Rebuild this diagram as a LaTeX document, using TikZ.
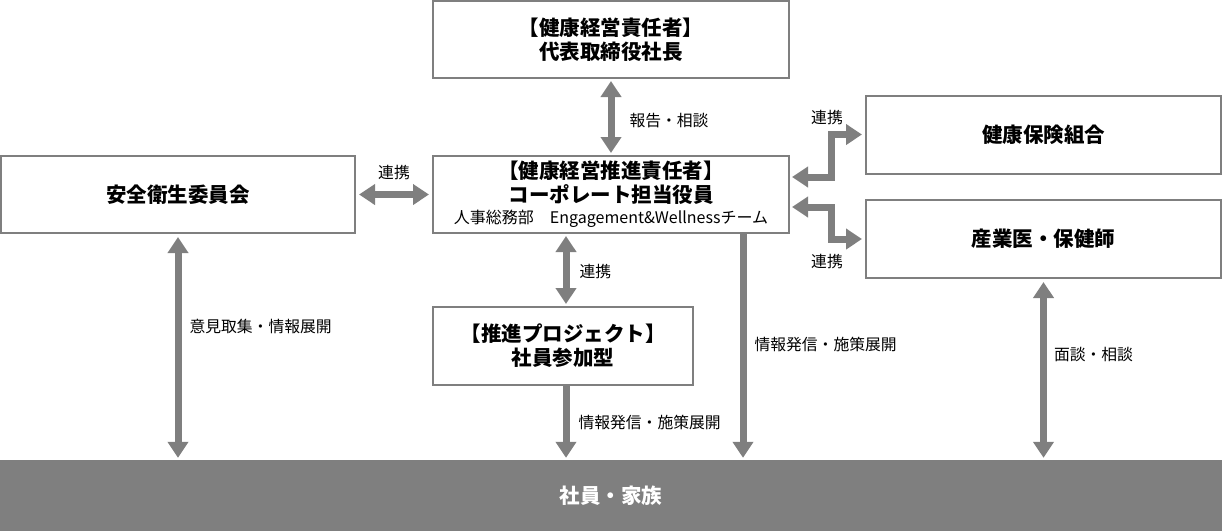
\documentclass[tikz,border=0pt]{standalone}
\usepackage{fontspec}
\setmainfont{Noto Sans CJK JP}
\usetikzlibrary{arrows.meta}

\definecolor{linegray}{HTML}{7F7F7F}
\newcommand{\ttlfont}{\fontsize{20.5}{24}\selectfont\bfseries}
\newcommand{\lblfont}{\fontsize{15.8}{18}\selectfont}
\newcommand{\subfont}{\fontsize{16}{18}\selectfont\mdseries}

\tikzset{big/.tip={Triangle[width=20pt,length=16pt]}}

\begin{document}
\begin{tikzpicture}[x=1pt, y=-1pt,
    box/.style={draw=linegray, line width=2pt, fill=white, align=center, inner sep=0pt, font=\ttlfont},
    arr/.style={draw=linegray, line width=7pt},
    lbl/.style={font=\lblfont, inner sep=0pt}]
    \useasboundingbox (0,0) rectangle (1222,531);

    % boxes
    \node[box, minimum width=356pt, minimum height=77pt] (ceo) at (611,39.5) {【健康経営責任者】\\代表取締役社長};
    \node[box, minimum width=356pt, minimum height=77pt] (promo) at (611,194.5)
        {【健康経営推進責任者】\\コーポレート担当役員\\[-3pt]{\subfont 人事総務部　Engagement\&Wellnessチーム}};
    \node[box, minimum width=354pt, minimum height=77pt] (safety) at (178,194.5) {安全衛生委員会};
    \node[box, minimum width=355pt, minimum height=78pt] (kenpo) at (1043.5,134.5) {健康保険組合};
    \node[box, minimum width=355pt, minimum height=78pt] (doctor) at (1043.5,239) {産業医・保健師};
    \node[box, minimum width=260pt, minimum height=78pt] (project) at (563,346) {【推進プロジェクト】\\社員参加型};
    \node[fill=linegray, minimum width=1222pt, minimum height=71pt, inner sep=0pt,
          text=white, font=\ttlfont] (bar) at (611,495.5) {社員・家族};

    \coordinate (cmid) at (566,0);
    \coordinate (cast) at (743,0);

    % connectors
    \draw[arr, big-big, shorten <=2pt, shorten >=2pt] (ceo.south) -- (promo.north)
        node[lbl, pos=0.55, anchor=west, xshift=15pt] (l1) {報告・相談};
    \draw[arr, big-big, shorten <=3pt, shorten >=3pt] (safety.east) -- (promo.west)
        node[lbl, midway, yshift=21.5pt] (l2) {連携};
    \draw[arr, big-big, shorten <=2pt, shorten >=2pt] (promo.south -| cmid) -- (project.north -| cmid)
        node[lbl, pos=0.52, anchor=west, xshift=10pt] (l3) {連携};
    \draw[arr, -big, shorten >=2pt] (project.south -| cmid) -- (bar.north -| cmid)
        node[lbl, pos=0.5, anchor=west, xshift=9pt] (l4) {情報発信・施策展開};
    \draw[arr, -big, shorten >=2pt] (promo.south -| cast) -- (bar.north -| cast)
        node[lbl, pos=0.49, anchor=west, xshift=8pt] (l5) {情報発信・施策展開};
    \draw[arr, big-big, shorten <=3pt, shorten >=2pt] (safety.south) -- (safety.south |- bar.north)
        node[lbl, pos=0.41, anchor=west, xshift=8pt] (l6) {意見取集・情報展開};
    \draw[arr, big-big, shorten <=3pt, shorten >=2pt] (doctor.south) -- (doctor.south |- bar.north)
        node[lbl, pos=0.42, anchor=west, xshift=7pt] (l7) {面談・相談};
    \draw[arr, big-big, shorten <=2pt, shorten >=3pt] ([yshift=17.5pt]promo.east) -- ++(41,0) |- (kenpo.west);
    \draw[arr, big-big, shorten <=2pt, shorten >=3pt] ([yshift=-12.5pt]promo.east) -- ++(41,0) |- (doctor.west);
    \node[lbl] (l8) at (827,118) {連携};
    \node[lbl] (l9) at (827,262) {連携};
\end{tikzpicture}
\end{document}
